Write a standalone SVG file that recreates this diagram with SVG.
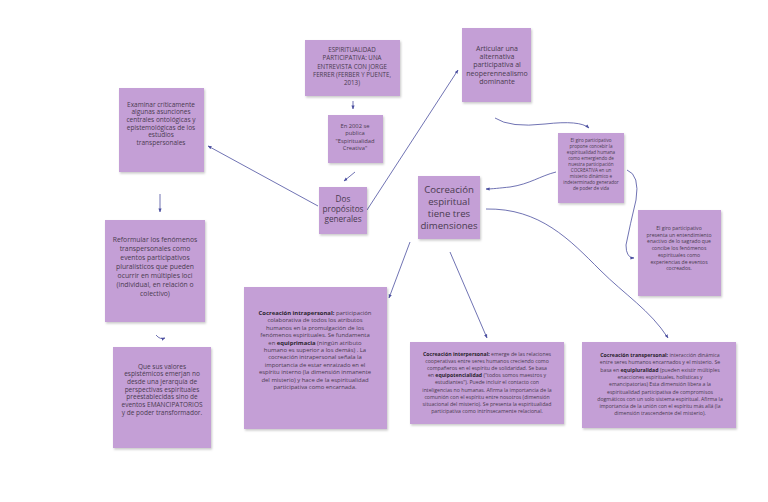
<svg xmlns="http://www.w3.org/2000/svg" width="768" height="502" viewBox="0 0 768 502">
<defs>
<marker id="ah" viewBox="0 0 10 10" refX="9" refY="5" markerWidth="5" markerHeight="5" orient="auto-start-reverse">
<path d="M0,1 L10,5 L0,9 z" fill="#4b4fa0"/>
</marker>
<filter id="sh" x="-10%" y="-10%" width="130%" height="130%">
<feDropShadow dx="1" dy="1.5" stdDeviation="1.2" flood-color="#000" flood-opacity="0.22"/>
</filter>
</defs>
<style>
.box{fill:#c49fd6;filter:url(#sh)}
text{font-family:"Open Sans","Noto Sans",sans-serif;fill:#4a3b50;text-anchor:middle}
.b{font-weight:bold;fill:#2a1f2e}
.c{fill:none;stroke:#4b4fa0;stroke-width:0.8;marker-end:url(#ah)}
</style>
<rect width="768" height="502" fill="#ffffff"/>

<g id="connectors">
<path class="c" d="M353,101 L353,109"/>
<path class="c" d="M355,172 L344,181"/>
<path class="c" d="M318,206 L208,146"/>
<path class="c" d="M367,210 L458,70"/>
<path class="c" d="M160,194 L160,212"/>
<path class="c" d="M156,335 Q160,340 165,338"/>
<path class="c" d="M410,242 L389,298"/>
<path class="c" d="M450,252 L487,338"/>
<path class="c" d="M495,118 Q510,128 545,124 Q580,120 589,128"/>
<path class="c" d="M627,170 Q640,175 636,200 Q630,225 626,245 Q626,258 634,258"/>
<path class="c" d="M556,172 C540,176 530,184 510,187 C500,188 492,189 486,189"/>
<path class="c" d="M486,209 C540,208 570,240 600,270 C625,295 650,310 668,338"/>
</g>

<g id="n_espiritualidad">
<rect class="box" x="305" y="40" width="95" height="56"/>
<text font-size="6.2"><tspan x="352" y="52">ESPIRITUALIDAD</tspan><tspan x="352" y="60.3">PARTICIPATIVA: UNA</tspan><tspan x="352" y="68.6">ENTREVISTA CON JORGE</tspan><tspan x="352" y="76.9">FERRER (FERBER Y PUENTE,</tspan><tspan x="352" y="85.2">2013)</tspan></text>
</g>

<g id="n_2002">
<rect class="box" x="328" y="115" width="55" height="48"/>
<text font-size="5.8"><tspan x="355" y="127.5">En 2002 se</tspan><tspan x="355" y="135.1">publica</tspan><tspan x="355" y="142.7">"Espiritualidad</tspan><tspan x="355" y="150.3">Creativa"</tspan></text>
</g>

<g id="n_articular">
<rect class="box" x="462" y="28" width="69" height="74"/>
<text font-size="7"><tspan x="497" y="51">Articular una</tspan><tspan x="497" y="59.2">alternativa</tspan><tspan x="497" y="67.4">participativa al</tspan><tspan x="497" y="75.6">neoperennealismo</tspan><tspan x="497" y="83.8">dominante</tspan></text>
</g>

<g id="n_examinar">
<rect class="box" x="119" y="88" width="85" height="84"/>
<text font-size="6.5"><tspan x="161" y="106.5">Examinar críticamente</tspan><tspan x="161" y="114.2">algunas asunciones</tspan><tspan x="161" y="121.9">centrales ontológicas y</tspan><tspan x="161" y="129.6">epistemológicas de los</tspan><tspan x="161" y="137.3">estudios</tspan><tspan x="161" y="145">transpersonales</tspan></text>
</g>

<g id="n_reformular">
<rect class="box" x="105" y="220" width="100" height="102"/>
<text font-size="6.8"><tspan x="155" y="242">Reformular los fenómenos</tspan><tspan x="155" y="251">transpersonales como</tspan><tspan x="155" y="260">eventos participativos</tspan><tspan x="155" y="269">pluralísticos que pueden</tspan><tspan x="155" y="278">ocurrir en múltiples loci</tspan><tspan x="155" y="287">(individual, en relación o</tspan><tspan x="155" y="296">colectivo)</tspan></text>
</g>

<g id="n_valores">
<rect class="box" x="113" y="347" width="98" height="101"/>
<text font-size="6.5"><tspan x="162" y="368.5">Que sus valores</tspan><tspan x="162" y="376.2">espistémicos emerjan no</tspan><tspan x="162" y="383.9">desde una jerarquía de</tspan><tspan x="162" y="391.6">perspectivas espirituales</tspan><tspan x="162" y="399.3">preestablecidas sino de</tspan><tspan x="162" y="407">eventos EMANCIPATORIOS</tspan><tspan x="162" y="414.7">y de poder transformador.</tspan></text>
</g>

<g id="n_dos">
<rect class="box" x="319" y="187" width="48" height="47"/>
<text font-size="8.2"><tspan x="343" y="201.5">Dos</tspan><tspan x="343" y="211.5">propósitos</tspan><tspan x="343" y="221.5">generales</tspan></text>
</g>

<g id="n_cocreacion">
<rect class="box" x="418" y="176" width="62" height="63"/>
<text font-size="9.6"><tspan x="449" y="193">Cocreación</tspan><tspan x="449" y="205">espiritual</tspan><tspan x="449" y="217">tiene tres</tspan><tspan x="449" y="229">dimensiones</tspan></text>
</g>

<g id="n_intrapersonal">
<rect class="box" x="244" y="287" width="143" height="142"/>
<text font-size="5.9"><tspan x="315" y="315" class="b">Cocreación intrapersonal:</tspan><tspan> participación</tspan><tspan x="315" y="322.4">colaborativa de todos los atributos</tspan><tspan x="315" y="329.8">humanos en la promulgación de los</tspan><tspan x="315" y="337.2">fenómenos espirituales. Se fundamenta</tspan><tspan x="315" y="344.6">en  </tspan><tspan class="b">equiprimacia</tspan><tspan> (ningún atributo</tspan><tspan x="315" y="352">humano es superior a los demás) . La</tspan><tspan x="315" y="359.4">cocreación intrapersonal señala la</tspan><tspan x="315" y="366.8">importancia de estar enraizado en el</tspan><tspan x="315" y="374.2">espíritu interno (la dimensión inmanente</tspan><tspan x="315" y="381.6">del misterio) y hace de la espiritualidad</tspan><tspan x="315" y="389">participativa como encarnada.</tspan></text>
</g>

<g id="n_interpersonal">
<rect class="box" x="410" y="342" width="154" height="82"/>
<text font-size="5.2"><tspan x="487" y="356" class="b">Cocreación interpersonal:</tspan><tspan> emerge de las relaciones</tspan><tspan x="487" y="363.1">cooperativas entre seres humanos creciendo como</tspan><tspan x="487" y="370.2">compañeros en el espíritu de solidaridad.  Se basa</tspan><tspan x="487" y="377.3">en </tspan><tspan class="b">equipotencialidad</tspan><tspan> ("todos somos maestros y</tspan><tspan x="487" y="384.4">estudiantes"). Puede incluir el contacto con</tspan><tspan x="487" y="391.5">inteligencias no humanas. Afirma la importancia de la</tspan><tspan x="487" y="398.6">comunión con el espíritu entre nosotros (dimensión</tspan><tspan x="487" y="405.7">situacional del misterio). Se presenta la espiritualidad</tspan><tspan x="487" y="412.8">participativa como intrínsecamente relacional.</tspan></text>
</g>

<g id="n_transpersonal">
<rect class="box" x="582" y="342" width="154" height="86"/>
<text font-size="5.2"><tspan x="660" y="357" class="b">Cocreación transpersonal:</tspan><tspan> interacción dinámica</tspan><tspan x="660" y="364.3">entre seres humanos encarnados y el misterio. Se</tspan><tspan x="660" y="371.6">basa en  </tspan><tspan class="b">equipluralidad</tspan><tspan> (pueden existir múltiples</tspan><tspan x="660" y="378.9">enacciones espirituales, holísticas y</tspan><tspan x="660" y="386.2">emancipatorias) Esta dimensión libera a la</tspan><tspan x="660" y="393.5">espiritualidad participativa de compromisos</tspan><tspan x="660" y="400.8">dogmáticos con un solo sistema espiritual. Afirma la</tspan><tspan x="660" y="408.1">importancia de la unión con el espíritu más allá (la</tspan><tspan x="660" y="415.4">dimensión trascendente del misterio).</tspan></text>
</g>

<g id="n_giro_propone">
<rect class="box" x="558" y="133" width="66" height="70"/>
<text font-size="4.6"><tspan x="591" y="141.5">El giro participativo</tspan><tspan x="591" y="147.6">propone concebir la</tspan><tspan x="591" y="153.7">espiritualidad humana</tspan><tspan x="591" y="159.8">como emergiendo de</tspan><tspan x="591" y="165.9">nuestra participación</tspan><tspan x="591" y="172">COCREATIVA en un</tspan><tspan x="591" y="178.1">misterio dinámico e</tspan><tspan x="591" y="184.2">indeterminado generador</tspan><tspan x="591" y="190.3">de poder de vida</tspan></text>
</g>

<g id="n_giro_presenta">
<rect class="box" x="638" y="210" width="83" height="86"/>
<text font-size="5.1"><tspan x="679" y="230">El giro participativo</tspan><tspan x="679" y="236.7">presenta un entendimiento</tspan><tspan x="679" y="243.4">enactivo de lo sagrado que</tspan><tspan x="679" y="250.1">concibe los fenómenos</tspan><tspan x="679" y="256.8">espirituales como</tspan><tspan x="679" y="263.5">experiencias de eventos</tspan><tspan x="679" y="270.2">cocreados.</tspan></text>
</g>
</svg>
